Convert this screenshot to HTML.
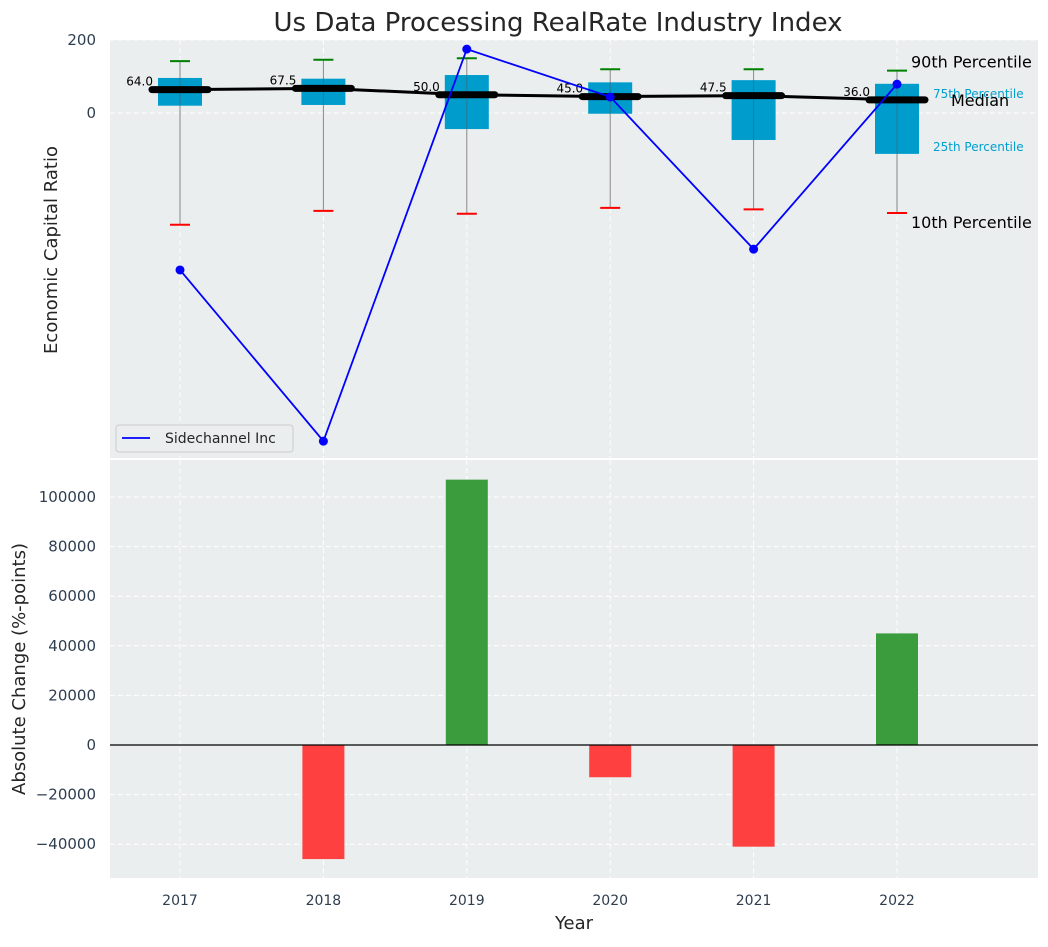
<!DOCTYPE html>
<html><head><meta charset="utf-8"><style>
body{margin:0;background:#fff;font-family:"Liberation Sans","DejaVu Sans",sans-serif;}
svg text{font-family:"DejaVu Sans","Liberation Sans",sans-serif;}
</style></head><body>
<svg id="c" width="1048" height="942" xmlns="http://www.w3.org/2000/svg"></svg>
<script>
const years=[2017,2018,2019,2020,2021,2022];
const p90=[142,146,150,120,120,116];
const q75=[96,94,104,84,90,80];
const medians=[64,67.5,50,45,47.5,36];
const q25=[20,22,-44,-2,-74,-112];
const p10=[-306,-268,-276,-260,-264,-274];
const companyVals=[-430,-899,175,44,-373,79];
const changes=[0,-46000,107000,-13000,-41000,45000];
const topTicks=[0,200];
const bottomTicks=[-40000,-20000,0,20000,40000,60000,80000,100000];

const NS="http://www.w3.org/2000/svg";
const svg=document.getElementById('c');
function el(t,a,txt){const e=document.createElementNS(NS,t);for(const k in a)e.setAttribute(k,a[k]);if(txt!==undefined)e.textContent=txt;svg.appendChild(e);return e;}
const L=110,R=1038;
const x=i=>180+i*143.4;
const yT=v=>113-v*0.365;
const yB=v=>745-v*0.00248;
const T0=40,T1=458,B0=460,B1=878;

let e;
e=el('text',{x:558,y:31,'text-anchor':'middle','font-size':26,fill:'#262626'},'Us Data Processing RealRate Industry Index');


e=el('rect',{x:L,y:T0,width:R-L,height:T1-T0,fill:'#eaeeee'});

years.forEach((yr,i)=>{e=el('line',{x1:x(i),x2:x(i),y1:T0,y2:T1,stroke:'#fff','stroke-dasharray':'5,3','stroke-width':1});});
topTicks.forEach(t=>{
 e=el('line',{x1:L,x2:R,y1:yT(t),y2:yT(t),stroke:'#fff','stroke-dasharray':'5,3'});
 e=el('text',{x:96,y:yT(t)+5,'text-anchor':'end','font-size':15,fill:'#2e3e50'},t);
});
e=el('text',{x:57,y:250,'text-anchor':'middle','font-size':18,fill:'#262626',transform:'rotate(-90 57 250)'},'Economic Capital Ratio');


years.forEach((yr,i)=>{
 const cx=x(i);
 e=el('line',{x1:cx,x2:cx,y1:yT(p90[i]),y2:yT(p10[i]),stroke:'#888','stroke-width':1});
 e=el('rect',{x:cx-22,y:yT(q75[i]),width:44,height:yT(q25[i])-yT(q75[i]),fill:'#009ccc'});
 e=el('line',{x1:cx,x2:cx,y1:yT(q75[i]),y2:yT(q25[i]),stroke:'#555','stroke-width':1,opacity:0.5});
 e=el('line',{x1:cx-10,x2:cx+10,y1:yT(p90[i]),y2:yT(p90[i]),stroke:'green','stroke-width':2});
 e=el('line',{x1:cx-10,x2:cx+10,y1:yT(p10[i]),y2:yT(p10[i]),stroke:'red','stroke-width':2});
});
let pts=years.map((yr,i)=>x(i)+','+yT(medians[i])).join(' ');
e=el('polyline',{points:pts,fill:'none',stroke:'#000','stroke-width':3});
years.forEach((yr,i)=>{
 const cx=x(i),cy=yT(medians[i]);
 e=el('line',{x1:cx-28,x2:cx+28,y1:cy,y2:cy,stroke:'#000','stroke-width':7,'stroke-linecap':'round'});
 e=el('text',{x:cx-27,y:cy-4,'text-anchor':'end','font-size':12,fill:'#000'},medians[i].toFixed(1));
});
pts=years.map((yr,i)=>x(i)+','+yT(companyVals[i])).join(' ');
e=el('polyline',{points:pts,fill:'none',stroke:'blue','stroke-width':1.8});
years.forEach((yr,i)=>{e=el('circle',{cx:x(i),cy:yT(companyVals[i]),r:4.5,fill:'blue'});});
const lx=x(5);
e=el('text',{x:lx+14,y:yT(p90[5])-3,'font-size':16,fill:'#000'},'90th Percentile');
e=el('text',{x:lx+36,y:yT(q75[5])+14,'font-size':12,fill:'#00a0d0'},'75th Percentile');
e=el('text',{x:lx+54,y:yT(medians[5])+6,'font-size':16,fill:'#000'},'Median');
e=el('text',{x:lx+36,y:yT(q25[5])-3,'font-size':12,fill:'#00a0d0'},'25th Percentile');
e=el('text',{x:lx+14,y:yT(p10[5])+15,'font-size':16,fill:'#000'},'10th Percentile');
e=el('rect',{x:116,y:425,width:177,height:27,rx:3,fill:'#eaeeee',stroke:'#ccc'});
e=el('line',{x1:122,x2:150,y1:438,y2:438,stroke:'blue','stroke-width':1.8});
e=el('text',{x:165,y:443,'font-size':14,fill:'#262626'},'Sidechannel Inc');

e=el('rect',{x:L,y:B0,width:R-L,height:B1-B0,fill:'#eaeeee'});
years.forEach((yr,i)=>{
 e=el('line',{x1:x(i),x2:x(i),y1:B0,y2:B1,stroke:'#fff','stroke-dasharray':'5,3'});
 e=el('text',{x:x(i),y:905,'text-anchor':'middle','font-size':14,fill:'#2e3e50'},yr);
});
bottomTicks.forEach(t=>{
 e=el('line',{x1:L,x2:R,y1:yB(t),y2:yB(t),stroke:'#fff','stroke-dasharray':'5,3'});
 e=el('text',{x:96,y:yB(t)+5,'text-anchor':'end','font-size':15,fill:'#2e3e50'},(t<0?'\u2212':'')+Math.abs(t));
});
years.forEach((yr,i)=>{
 const v=changes[i];if(v===0)return;
 const y0=yB(Math.max(v,0)),y1=yB(Math.min(v,0));
 e=el('rect',{x:x(i)-21,y:y0,width:42,height:y1-y0,fill:v>0?'#3a9c3c':'#ff4040'});
});
e=el('line',{x1:L,x2:R,y1:yB(0),y2:yB(0),stroke:'#000','stroke-width':1.2});
e=el('text',{x:25,y:669,'text-anchor':'middle','font-size':18,fill:'#262626',transform:'rotate(-90 25 669)'},'Absolute Change (%-points)');
e=el('text',{x:574,y:929,'text-anchor':'middle','font-size':18,fill:'#262626'},'Year');
</script>
</body></html>
